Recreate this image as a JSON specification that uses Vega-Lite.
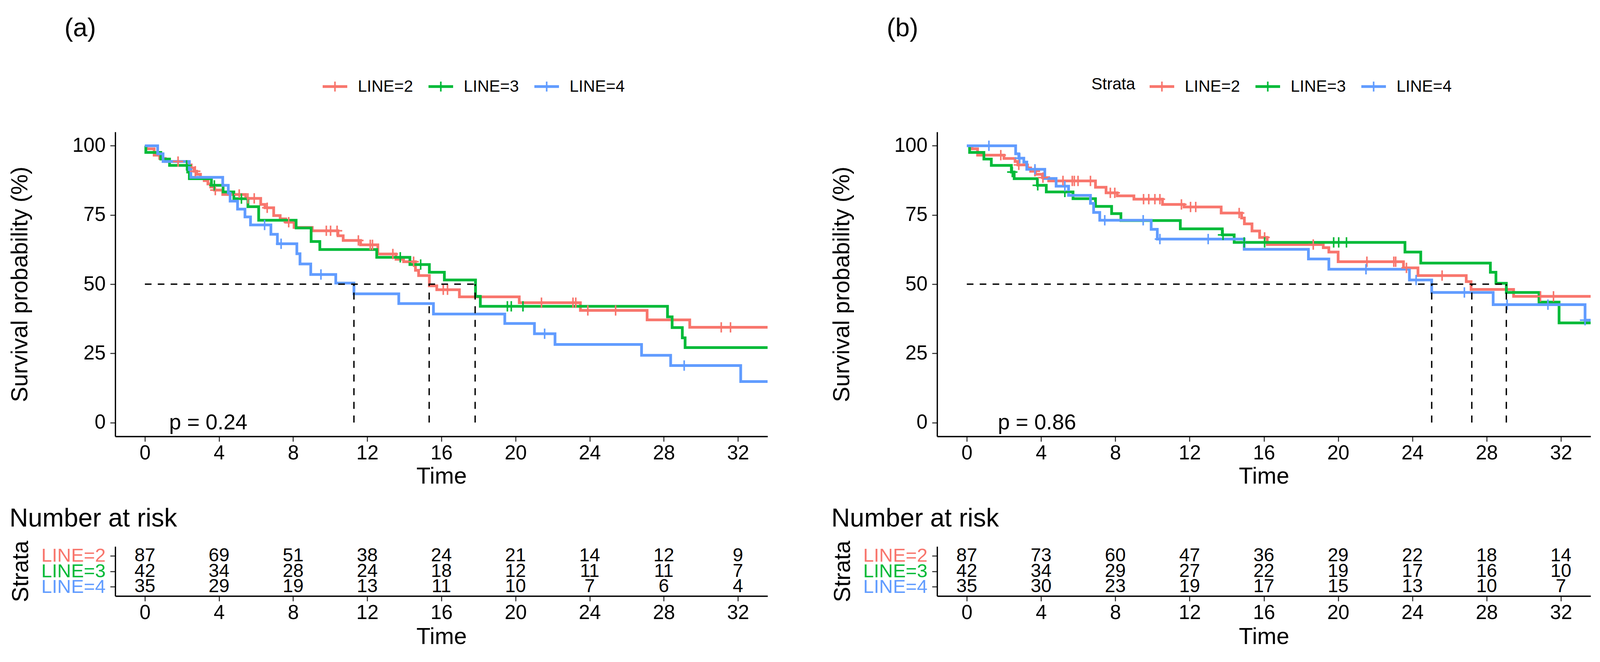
{
  "$schema": "https://vega.github.io/schema/vega-lite/v6.json",
  "background": "white",
  "padding": {"left": 22, "top": 40, "right": 5, "bottom": 5},
  "config": {
    "font": "Liberation Sans",
    "view": {"stroke": null},
    "axis": {"grid": false, "domainColor": "black", "domainWidth": 3.3, "tickColor": "#333333", "tickWidth": 2.7, "tickSize": 13, "labelColor": "black", "labelFontSize": 51, "labelPadding": 5, "titleFontSize": 59, "titleFontWeight": "normal", "titleColor": "black", "labelFlush": false},
    "legend": {"labelFontSize": 42, "titleFontSize": 42, "titleFontWeight": "normal", "labelColor": "black", "titleColor": "black"},
    "title": {"fontWeight": "normal", "color": "black"}
  },
  "datasets": {
    "curveA": [
      {"g":"LINE=2","t":0,"s":100},{"g":"LINE=2","t":0.1,"s":98.9},{"g":"LINE=2","t":0.5,"s":96.6},{"g":"LINE=2","t":0.8,"s":95.4},{"g":"LINE=2","t":1.1,"s":94.3},{"g":"LINE=2","t":2.3,"s":93.1},{"g":"LINE=2","t":2.5,"s":92.0},{"g":"LINE=2","t":2.65,"s":90.8},{"g":"LINE=2","t":2.8,"s":89.7},{"g":"LINE=2","t":3.0,"s":88.5},{"g":"LINE=2","t":3.2,"s":87.4},{"g":"LINE=2","t":3.4,"s":86.2},{"g":"LINE=2","t":3.55,"s":85.1},{"g":"LINE=2","t":3.75,"s":84.0},{"g":"LINE=2","t":4.2,"s":82.4},{"g":"LINE=2","t":5.44,"s":81.0},{"g":"LINE=2","t":6.25,"s":78.8},{"g":"LINE=2","t":6.48,"s":77.6},{"g":"LINE=2","t":6.95,"s":74.8},{"g":"LINE=2","t":7.3,"s":73.6},{"g":"LINE=2","t":7.6,"s":72.4},{"g":"LINE=2","t":8.05,"s":70.5},{"g":"LINE=2","t":9.03,"s":69.3},{"g":"LINE=2","t":10.42,"s":67.5},{"g":"LINE=2","t":10.7,"s":65.8},{"g":"LINE=2","t":11.64,"s":64.2},{"g":"LINE=2","t":12.57,"s":60.9},{"g":"LINE=2","t":13.55,"s":59.0},{"g":"LINE=2","t":13.96,"s":58.1},{"g":"LINE=2","t":14.6,"s":55.0},{"g":"LINE=2","t":14.77,"s":53.1},{"g":"LINE=2","t":15.35,"s":49.4},{"g":"LINE=2","t":15.75,"s":48.0},{"g":"LINE=2","t":16.97,"s":45.4},{"g":"LINE=2","t":20.2,"s":43.3},{"g":"LINE=2","t":23.5,"s":40.5},{"g":"LINE=2","t":27.1,"s":37.1},{"g":"LINE=2","t":29.4,"s":34.4},{"g":"LINE=2","t":34,"s":34.4},
      {"g":"LINE=3","t":0,"s":100},{"g":"LINE=3","t":0.05,"s":97.6},{"g":"LINE=3","t":0.86,"s":95.2},{"g":"LINE=3","t":1.33,"s":92.9},{"g":"LINE=3","t":2.31,"s":90.5},{"g":"LINE=3","t":2.4,"s":88.1},{"g":"LINE=3","t":3.59,"s":85.7},{"g":"LINE=3","t":4.22,"s":83.3},{"g":"LINE=3","t":4.8,"s":80.9},{"g":"LINE=3","t":5.56,"s":78.0},{"g":"LINE=3","t":6.14,"s":73.1},{"g":"LINE=3","t":8.16,"s":70.3},{"g":"LINE=3","t":8.97,"s":65.4},{"g":"LINE=3","t":9.44,"s":62.5},{"g":"LINE=3","t":12.51,"s":59.7},{"g":"LINE=3","t":14.3,"s":57.1},{"g":"LINE=3","t":15.35,"s":54.3},{"g":"LINE=3","t":16.16,"s":51.5},{"g":"LINE=3","t":17.84,"s":45.6},{"g":"LINE=3","t":18.1,"s":42.0},{"g":"LINE=3","t":28.2,"s":38.2},{"g":"LINE=3","t":28.45,"s":34.3},{"g":"LINE=3","t":29.0,"s":30.6},{"g":"LINE=3","t":29.15,"s":27.1},{"g":"LINE=3","t":34,"s":27.1},
      {"g":"LINE=4","t":0,"s":100},{"g":"LINE=4","t":0.69,"s":97.1},{"g":"LINE=4","t":0.98,"s":94.3},{"g":"LINE=4","t":2.4,"s":91.4},{"g":"LINE=4","t":2.48,"s":88.6},{"g":"LINE=4","t":4.2,"s":85.7},{"g":"LINE=4","t":4.5,"s":82.9},{"g":"LINE=4","t":4.6,"s":80.0},{"g":"LINE=4","t":5.0,"s":77.1},{"g":"LINE=4","t":5.4,"s":74.3},{"g":"LINE=4","t":5.7,"s":71.4},{"g":"LINE=4","t":6.8,"s":68.0},{"g":"LINE=4","t":7.15,"s":64.6},{"g":"LINE=4","t":8.2,"s":61.0},{"g":"LINE=4","t":8.37,"s":57.3},{"g":"LINE=4","t":8.95,"s":53.5},{"g":"LINE=4","t":10.3,"s":50.4},{"g":"LINE=4","t":11.28,"s":46.5},{"g":"LINE=4","t":13.7,"s":43.0},{"g":"LINE=4","t":15.57,"s":39.2},{"g":"LINE=4","t":19.42,"s":35.8},{"g":"LINE=4","t":21.02,"s":32.1},{"g":"LINE=4","t":22.13,"s":28.2},{"g":"LINE=4","t":26.8,"s":24.3},{"g":"LINE=4","t":28.37,"s":20.6},{"g":"LINE=4","t":32.15,"s":14.8},{"g":"LINE=4","t":34,"s":14.8}
    ],
    "censA": [
      {"g":"LINE=2","t":1.79,"s":94.3},{"g":"LINE=2","t":2.72,"s":90.8},{"g":"LINE=2","t":3.8,"s":84.0},{"g":"LINE=2","t":5.09,"s":82.4},{"g":"LINE=2","t":5.56,"s":81.0},{"g":"LINE=2","t":5.9,"s":81.0},{"g":"LINE=2","t":6.6,"s":77.6},{"g":"LINE=2","t":7.76,"s":72.4},{"g":"LINE=2","t":9.79,"s":69.3},{"g":"LINE=2","t":10.02,"s":69.3},{"g":"LINE=2","t":10.37,"s":69.3},{"g":"LINE=2","t":11.52,"s":65.8},{"g":"LINE=2","t":12.16,"s":64.2},{"g":"LINE=2","t":12.28,"s":64.2},{"g":"LINE=2","t":13.38,"s":60.9},{"g":"LINE=2","t":14.5,"s":58.1},{"g":"LINE=2","t":16.1,"s":48.0},{"g":"LINE=2","t":16.33,"s":48.0},{"g":"LINE=2","t":21.4,"s":43.3},{"g":"LINE=2","t":23.1,"s":43.3},{"g":"LINE=2","t":23.25,"s":43.3},{"g":"LINE=2","t":23.9,"s":40.5},{"g":"LINE=2","t":25.4,"s":40.5},{"g":"LINE=2","t":31.1,"s":34.4},{"g":"LINE=2","t":31.6,"s":34.4},
      {"g":"LINE=3","t":2.25,"s":92.9},{"g":"LINE=3","t":3.75,"s":85.7},{"g":"LINE=3","t":5.21,"s":80.9},{"g":"LINE=3","t":13.78,"s":59.7},{"g":"LINE=3","t":14.88,"s":57.1},{"g":"LINE=3","t":19.56,"s":42.0},{"g":"LINE=3","t":19.77,"s":42.0},{"g":"LINE=3","t":20.4,"s":42.0},
      {"g":"LINE=4","t":6.46,"s":71.4},{"g":"LINE=4","t":7.35,"s":64.6},{"g":"LINE=4","t":9.5,"s":53.5},{"g":"LINE=4","t":21.57,"s":32.1},{"g":"LINE=4","t":29.1,"s":20.6}
    ],
    "medAh": [{"t":0,"t2":17.82,"s":50}],
    "medAv": [{"t":11.28,"s":0,"s2":50},{"t":15.34,"s":0,"s2":50},{"t":17.82,"s":0,"s2":50}],
    "pA": [{"t":1.31,"s":0,"label":"p = 0.24"}],
    "riskA": [
      {"g":"LINE=2","t":0,"n":87},{"g":"LINE=2","t":4,"n":69},{"g":"LINE=2","t":8,"n":51},{"g":"LINE=2","t":12,"n":38},{"g":"LINE=2","t":16,"n":24},{"g":"LINE=2","t":20,"n":21},{"g":"LINE=2","t":24,"n":14},{"g":"LINE=2","t":28,"n":12},{"g":"LINE=2","t":32,"n":9},
      {"g":"LINE=3","t":0,"n":42},{"g":"LINE=3","t":4,"n":34},{"g":"LINE=3","t":8,"n":28},{"g":"LINE=3","t":12,"n":24},{"g":"LINE=3","t":16,"n":18},{"g":"LINE=3","t":20,"n":12},{"g":"LINE=3","t":24,"n":11},{"g":"LINE=3","t":28,"n":11},{"g":"LINE=3","t":32,"n":7},
      {"g":"LINE=4","t":0,"n":35},{"g":"LINE=4","t":4,"n":29},{"g":"LINE=4","t":8,"n":19},{"g":"LINE=4","t":12,"n":13},{"g":"LINE=4","t":16,"n":11},{"g":"LINE=4","t":20,"n":10},{"g":"LINE=4","t":24,"n":7},{"g":"LINE=4","t":28,"n":6},{"g":"LINE=4","t":32,"n":4}
    ],
    "curveB": [
      {"g":"LINE=2","t":0,"s":100},{"g":"LINE=2","t":0.28,"s":98.9},{"g":"LINE=2","t":0.58,"s":96.6},{"g":"LINE=2","t":2.0,"s":95.4},{"g":"LINE=2","t":2.6,"s":94.3},{"g":"LINE=2","t":2.75,"s":93.1},{"g":"LINE=2","t":3.27,"s":92.0},{"g":"LINE=2","t":3.44,"s":90.8},{"g":"LINE=2","t":3.7,"s":89.7},{"g":"LINE=2","t":4.07,"s":88.5},{"g":"LINE=2","t":4.41,"s":87.3},{"g":"LINE=2","t":6.93,"s":85.0},{"g":"LINE=2","t":7.5,"s":83.0},{"g":"LINE=2","t":8.1,"s":81.9},{"g":"LINE=2","t":9.0,"s":80.7},{"g":"LINE=2","t":10.54,"s":78.8},{"g":"LINE=2","t":11.7,"s":77.9},{"g":"LINE=2","t":13.7,"s":75.7},{"g":"LINE=2","t":14.8,"s":73.9},{"g":"LINE=2","t":14.95,"s":71.8},{"g":"LINE=2","t":15.36,"s":69.2},{"g":"LINE=2","t":15.77,"s":66.9},{"g":"LINE=2","t":16.18,"s":64.3},{"g":"LINE=2","t":19.2,"s":63.2},{"g":"LINE=2","t":19.5,"s":61.6},{"g":"LINE=2","t":20.0,"s":58.1},{"g":"LINE=2","t":23.52,"s":55.9},{"g":"LINE=2","t":24.3,"s":53.1},{"g":"LINE=2","t":26.9,"s":50.9},{"g":"LINE=2","t":27.16,"s":48.1},{"g":"LINE=2","t":29.45,"s":45.6},{"g":"LINE=2","t":34,"s":45.6},
      {"g":"LINE=3","t":0,"s":100},{"g":"LINE=3","t":0.15,"s":97.6},{"g":"LINE=3","t":0.92,"s":95.2},{"g":"LINE=3","t":1.32,"s":92.9},{"g":"LINE=3","t":2.4,"s":90.5},{"g":"LINE=3","t":2.55,"s":88.1},{"g":"LINE=3","t":3.8,"s":85.7},{"g":"LINE=3","t":4.28,"s":83.3},{"g":"LINE=3","t":5.72,"s":80.9},{"g":"LINE=3","t":6.93,"s":78.1},{"g":"LINE=3","t":7.8,"s":75.5},{"g":"LINE=3","t":8.3,"s":73.0},{"g":"LINE=3","t":11.5,"s":70.0},{"g":"LINE=3","t":13.76,"s":67.8},{"g":"LINE=3","t":14.4,"s":65.1},{"g":"LINE=3","t":23.6,"s":61.6},{"g":"LINE=3","t":24.45,"s":57.6},{"g":"LINE=3","t":28.2,"s":54.3},{"g":"LINE=3","t":28.5,"s":50.3},{"g":"LINE=3","t":29.06,"s":47.0},{"g":"LINE=3","t":30.82,"s":43.5},{"g":"LINE=3","t":31.9,"s":36.0},{"g":"LINE=3","t":34,"s":36.0},
      {"g":"LINE=4","t":0,"s":100},{"g":"LINE=4","t":2.63,"s":97.1},{"g":"LINE=4","t":2.8,"s":95.5},{"g":"LINE=4","t":3.07,"s":94.1},{"g":"LINE=4","t":3.23,"s":91.5},{"g":"LINE=4","t":4.2,"s":88.2},{"g":"LINE=4","t":4.81,"s":85.4},{"g":"LINE=4","t":5.48,"s":82.1},{"g":"LINE=4","t":6.66,"s":79.2},{"g":"LINE=4","t":6.83,"s":75.9},{"g":"LINE=4","t":7.16,"s":73.1},{"g":"LINE=4","t":9.93,"s":69.8},{"g":"LINE=4","t":10.26,"s":66.3},{"g":"LINE=4","t":14.94,"s":62.6},{"g":"LINE=4","t":18.4,"s":59.1},{"g":"LINE=4","t":19.5,"s":55.4},{"g":"LINE=4","t":23.84,"s":51.5},{"g":"LINE=4","t":25.04,"s":47.0},{"g":"LINE=4","t":28.35,"s":42.6},{"g":"LINE=4","t":33.3,"s":37.0},{"g":"LINE=4","t":34,"s":37.0}
    ],
    "censB": [
      {"g":"LINE=2","t":1.83,"s":96.6},{"g":"LINE=2","t":2.8,"s":93.1},{"g":"LINE=2","t":3.67,"s":90.8},{"g":"LINE=2","t":4.1,"s":88.5},{"g":"LINE=2","t":5.18,"s":87.3},{"g":"LINE=2","t":5.68,"s":87.3},{"g":"LINE=2","t":5.79,"s":87.3},{"g":"LINE=2","t":5.99,"s":87.3},{"g":"LINE=2","t":6.66,"s":87.3},{"g":"LINE=2","t":7.73,"s":83.0},{"g":"LINE=2","t":7.97,"s":83.0},{"g":"LINE=2","t":9.52,"s":80.7},{"g":"LINE=2","t":9.8,"s":80.7},{"g":"LINE=2","t":10.13,"s":80.7},{"g":"LINE=2","t":10.4,"s":80.7},{"g":"LINE=2","t":11.56,"s":78.8},{"g":"LINE=2","t":12.05,"s":77.9},{"g":"LINE=2","t":12.33,"s":77.9},{"g":"LINE=2","t":14.67,"s":75.7},{"g":"LINE=2","t":16.04,"s":66.9},{"g":"LINE=2","t":18.66,"s":64.3},{"g":"LINE=2","t":21.55,"s":58.1},{"g":"LINE=2","t":23.0,"s":58.1},{"g":"LINE=2","t":23.1,"s":58.1},{"g":"LINE=2","t":23.68,"s":55.9},{"g":"LINE=2","t":25.6,"s":53.1},{"g":"LINE=2","t":30.9,"s":45.6},{"g":"LINE=2","t":31.6,"s":45.6},
      {"g":"LINE=3","t":2.45,"s":90.5},{"g":"LINE=3","t":3.82,"s":85.7},{"g":"LINE=3","t":5.28,"s":83.3},{"g":"LINE=3","t":13.8,"s":67.8},{"g":"LINE=3","t":14.94,"s":65.1},{"g":"LINE=3","t":16.04,"s":65.1},{"g":"LINE=3","t":19.76,"s":65.1},{"g":"LINE=3","t":20.03,"s":65.1},{"g":"LINE=3","t":20.45,"s":65.1},
      {"g":"LINE=4","t":1.19,"s":100},{"g":"LINE=4","t":2.85,"s":95.5},{"g":"LINE=4","t":3.67,"s":91.5},{"g":"LINE=4","t":5.28,"s":85.4},{"g":"LINE=4","t":7.43,"s":73.1},{"g":"LINE=4","t":9.5,"s":73.1},{"g":"LINE=4","t":10.4,"s":66.3},{"g":"LINE=4","t":13.0,"s":66.3},{"g":"LINE=4","t":21.5,"s":55.4},{"g":"LINE=4","t":24.2,"s":51.5},{"g":"LINE=4","t":26.8,"s":47.0},{"g":"LINE=4","t":29.1,"s":42.6},{"g":"LINE=4","t":31.3,"s":42.6},{"g":"LINE=4","t":33.3,"s":37.0}
    ],
    "medBh": [{"t":0,"t2":29.06,"s":50}],
    "medBv": [{"t":25.04,"s":0,"s2":50},{"t":27.2,"s":0,"s2":50},{"t":29.06,"s":0,"s2":50}],
    "pB": [{"t":1.67,"s":0,"label":"p = 0.86"}],
    "riskB": [
      {"g":"LINE=2","t":0,"n":87},{"g":"LINE=2","t":4,"n":73},{"g":"LINE=2","t":8,"n":60},{"g":"LINE=2","t":12,"n":47},{"g":"LINE=2","t":16,"n":36},{"g":"LINE=2","t":20,"n":29},{"g":"LINE=2","t":24,"n":22},{"g":"LINE=2","t":28,"n":18},{"g":"LINE=2","t":32,"n":14},
      {"g":"LINE=3","t":0,"n":42},{"g":"LINE=3","t":4,"n":34},{"g":"LINE=3","t":8,"n":29},{"g":"LINE=3","t":12,"n":27},{"g":"LINE=3","t":16,"n":22},{"g":"LINE=3","t":20,"n":19},{"g":"LINE=3","t":24,"n":17},{"g":"LINE=3","t":28,"n":16},{"g":"LINE=3","t":32,"n":10},
      {"g":"LINE=4","t":0,"n":35},{"g":"LINE=4","t":4,"n":30},{"g":"LINE=4","t":8,"n":23},{"g":"LINE=4","t":12,"n":19},{"g":"LINE=4","t":16,"n":17},{"g":"LINE=4","t":20,"n":15},{"g":"LINE=4","t":24,"n":13},{"g":"LINE=4","t":28,"n":10},{"g":"LINE=4","t":32,"n":7}
    ]
  },
  "spacing": 161,
  "resolve": {"scale": {"color": "independent", "x": "independent", "y": "independent"}, "legend": {"color": "independent"}},
  "hconcat": [
    {
      "spacing": 45,
      "resolve": {"scale": {"x": "independent", "y": "independent"}},
      "vconcat": [
        {
          "width": 1670, "height": 780,
          "title": {"text": "(a)", "anchor": "start", "frame": "group", "fontSize": 66, "dx": -130, "offset": 231},
          "encoding": {
            "x": {"field": "t", "type": "quantitative", "scale": {"domain": [-1.6, 33.6], "nice": false, "zero": false}, "axis": {"values": [0,4,8,12,16,20,24,28,32], "title": "Time", "titlePadding": 5}},
            "y": {"field": "s", "type": "quantitative", "scale": {"domain": [-5, 105], "nice": false, "zero": false}, "axis": {"values": [0,25,50,75,100], "title": "Survival probability (%)", "labelPadding": 12, "titlePadding": 103}}
          },
          "layer": [
            {
              "data": {"name": "curveA"},
              "mark": {"type": "line", "interpolate": "step-after", "strokeWidth": 7, "clip": true},
              "encoding": {
                "color": {"field": "g", "type": "nominal", "scale": {"domain": ["LINE=2","LINE=3","LINE=4"], "range": ["#F8766D","#00BA38","#619CFF"]}, "legend": {"title": null, "orient": "none", "direction": "horizontal", "legendX": 531, "legendY": -148, "symbolType": "M-1,-0.05L1,-0.05L1,0.05L-1,0.05ZM0,-0.43L0,0.43", "symbolSize": 3481, "symbolStrokeWidth": 4, "labelOffset": 27, "columnPadding": 33}}
              }
            },
            {
              "data": {"name": "censA"},
              "mark": {"type": "point", "shape": "M-1,0L1,0M0,-1L0,1", "size": 700, "filled": false, "strokeWidth": 4, "opacity": 1, "clip": true},
              "encoding": {
                "color": {"field": "g", "type": "nominal", "legend": {"title": null, "orient": "none", "direction": "horizontal", "legendX": 531, "legendY": -148, "symbolType": "M-1,-0.05L1,-0.05L1,0.05L-1,0.05ZM0,-0.43L0,0.43", "symbolSize": 3481, "symbolStrokeWidth": 4, "labelOffset": 27, "columnPadding": 33}}
              }
            },
            {
              "data": {"name": "medAh"},
              "mark": {"type": "rule", "strokeDash": [17, 16], "strokeWidth": 3.5, "color": "black"},
              "encoding": {"x2": {"field": "t2"}}
            },
            {
              "data": {"name": "medAv"},
              "mark": {"type": "rule", "strokeDash": [18, 17], "strokeWidth": 3.5, "color": "black"},
              "encoding": {"y2": {"field": "s2"}}
            },
            {
              "data": {"name": "pA"},
              "mark": {"type": "text", "align": "left", "baseline": "middle", "fontSize": 55, "color": "black"},
              "encoding": {"text": {"field": "label"}}
            }
          ]
        },
        {
          "width": 1670, "height": 127,
          "title": {"text": "Number at risk", "anchor": "start", "fontSize": 66, "offset": 22},
          "data": {"name": "riskA"},
          "mark": {"type": "text", "fontSize": 48, "baseline": "middle", "color": "black"},
          "encoding": {
            "x": {"field": "t", "type": "quantitative", "scale": {"domain": [-1.6, 33.6], "nice": false, "zero": false}, "axis": {"values": [0,4,8,12,16,20,24,28,32], "title": "Time", "titlePadding": 7}},
            "y": {"field": "g", "type": "nominal", "scale": {"type": "point", "padding": 0.6, "domain": ["LINE=2","LINE=3","LINE=4"]}, "axis": {"title": "Strata", "labelPadding": 12, "titlePadding": 22, "labelFontSize": 49, "labelColor": {"condition": [{"test": "datum.value === 'LINE=2'", "value": "#F8766D"}, {"test": "datum.value === 'LINE=3'", "value": "#00BA38"}], "value": "#619CFF"}}},
            "text": {"field": "n", "type": "quantitative"}
          }
        }
      ]
    },
    {
      "spacing": 45,
      "resolve": {"scale": {"x": "independent", "y": "independent"}},
      "vconcat": [
        {
          "width": 1673, "height": 780,
          "title": {"text": "(b)", "anchor": "start", "frame": "group", "fontSize": 66, "dx": -129, "offset": 231},
          "encoding": {
            "x": {"field": "t", "type": "quantitative", "scale": {"domain": [-1.6, 33.6], "nice": false, "zero": false}, "axis": {"values": [0,4,8,12,16,20,24,28,32], "title": "Time", "titlePadding": 5}},
            "y": {"field": "s", "type": "quantitative", "scale": {"domain": [-5, 105], "nice": false, "zero": false}, "axis": {"values": [0,25,50,75,100], "title": "Survival probability (%)", "labelPadding": 12, "titlePadding": 103}}
          },
          "layer": [
            {
              "data": {"name": "curveB"},
              "mark": {"type": "line", "interpolate": "step-after", "strokeWidth": 7, "clip": true},
              "encoding": {
                "color": {"field": "g", "type": "nominal", "scale": {"domain": ["LINE=2","LINE=3","LINE=4"], "range": ["#F8766D","#00BA38","#619CFF"]}, "legend": {"title": "Strata", "titleOrient": "left", "titlePadding": 36, "orient": "none", "direction": "horizontal", "legendX": 395, "legendY": -148, "symbolType": "M-1,-0.05L1,-0.05L1,0.05L-1,0.05ZM0,-0.43L0,0.43", "symbolSize": 3481, "symbolStrokeWidth": 4, "labelOffset": 27, "columnPadding": 33}}
              }
            },
            {
              "data": {"name": "censB"},
              "mark": {"type": "point", "shape": "M-1,0L1,0M0,-1L0,1", "size": 700, "filled": false, "strokeWidth": 4, "opacity": 1, "clip": true},
              "encoding": {
                "color": {"field": "g", "type": "nominal", "legend": {"title": "Strata", "titleOrient": "left", "titlePadding": 36, "orient": "none", "direction": "horizontal", "legendX": 395, "legendY": -148, "symbolType": "M-1,-0.05L1,-0.05L1,0.05L-1,0.05ZM0,-0.43L0,0.43", "symbolSize": 3481, "symbolStrokeWidth": 4, "labelOffset": 27, "columnPadding": 33}}
              }
            },
            {
              "data": {"name": "medBh"},
              "mark": {"type": "rule", "strokeDash": [17, 16], "strokeWidth": 3.5, "color": "black"},
              "encoding": {"x2": {"field": "t2"}}
            },
            {
              "data": {"name": "medBv"},
              "mark": {"type": "rule", "strokeDash": [18, 17], "strokeWidth": 3.5, "color": "black"},
              "encoding": {"y2": {"field": "s2"}}
            },
            {
              "data": {"name": "pB"},
              "mark": {"type": "text", "align": "left", "baseline": "middle", "fontSize": 55, "color": "black"},
              "encoding": {"text": {"field": "label"}}
            }
          ]
        },
        {
          "width": 1673, "height": 127,
          "title": {"text": "Number at risk", "anchor": "start", "fontSize": 66, "offset": 22},
          "data": {"name": "riskB"},
          "mark": {"type": "text", "fontSize": 48, "baseline": "middle", "color": "black"},
          "encoding": {
            "x": {"field": "t", "type": "quantitative", "scale": {"domain": [-1.6, 33.6], "nice": false, "zero": false}, "axis": {"values": [0,4,8,12,16,20,24,28,32], "title": "Time", "titlePadding": 7}},
            "y": {"field": "g", "type": "nominal", "scale": {"type": "point", "padding": 0.6, "domain": ["LINE=2","LINE=3","LINE=4"]}, "axis": {"title": "Strata", "labelPadding": 12, "titlePadding": 22, "labelFontSize": 49, "labelColor": {"condition": [{"test": "datum.value === 'LINE=2'", "value": "#F8766D"}, {"test": "datum.value === 'LINE=3'", "value": "#00BA38"}], "value": "#619CFF"}}},
            "text": {"field": "n", "type": "quantitative"}
          }
        }
      ]
    }
  ]
}
